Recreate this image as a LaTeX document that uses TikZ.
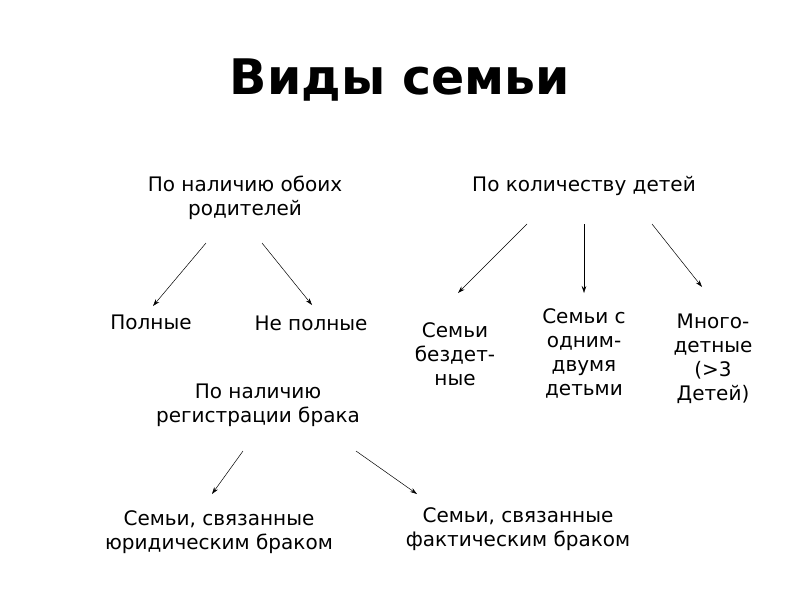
\documentclass[tikz,border=0pt]{standalone}
\usepackage{fontspec}
\setmainfont{DejaVu Sans}
\usetikzlibrary{arrows.meta}
\begin{document}
\begin{tikzpicture}[x=1pt,y=-1pt,
  lbl/.style={inner sep=0pt,align=center,font=\fontsize{20}{24}\selectfont},
  arr/.style={line width=0.5pt,-{Stealth[length=7pt,width=4.5pt]}}]
\fill[white] (0,0) rectangle (800,600);
\useasboundingbox (0,0) rectangle (800,600);
\node[inner sep=0pt,font=\fontsize{49}{58}\selectfont\bfseries] (title) at (400,80) {Виды семьи};
\node[lbl] (par) at (245,198) {По наличию обоих\\родителей};
\node[lbl] (kids) at (584,186) {По количеству детей};
\node[lbl] (full) at (151,322) {Полные};
\node[lbl] (notfull) at (311,323) {Не полные};
\node[lbl] (none) at (455,354) {Семьи\\бездет-\\ные};
\node[lbl] (one) at (584,353) {Семьи с\\одним-\\двумя\\детьми};
\node[lbl] (many) at (713,359) {Много-\\детные\\(>3\\Детей)};
\node[lbl] (reg) at (258,405) {По наличию\\регистрации брака};
\node[lbl] (jur) at (219,532) {Семьи, связанные\\юридическим браком};
\node[lbl] (fact) at (518,529) {Семьи, связанные\\фактическим браком};
\coordinate (a1s) at (206,243); \coordinate (a1e) at (153,306);
\coordinate (a2s) at (262,243); \coordinate (a2e) at (312,305);
\coordinate (b1s) at (527,224); \coordinate (b1e) at (458,293);
\coordinate (b2s) at (584,224); \coordinate (b2e) at (584,293);
\coordinate (b3s) at (652,224); \coordinate (b3e) at (702,287);
\coordinate (c1s) at (243,451); \coordinate (c1e) at (212,494);
\coordinate (c2s) at (356,451); \coordinate (c2e) at (417,494);
\draw[arr] (a1s) -- (a1e);
\draw[arr] (a2s) -- (a2e);
\draw[arr] (b1s) -- (b1e);
\draw[arr] (b2s) -- (b2e);
\draw[arr] (b3s) -- (b3e);
\draw[arr] (c1s) -- (c1e);
\draw[arr] (c2s) -- (c2e);
\end{tikzpicture}
\end{document}
